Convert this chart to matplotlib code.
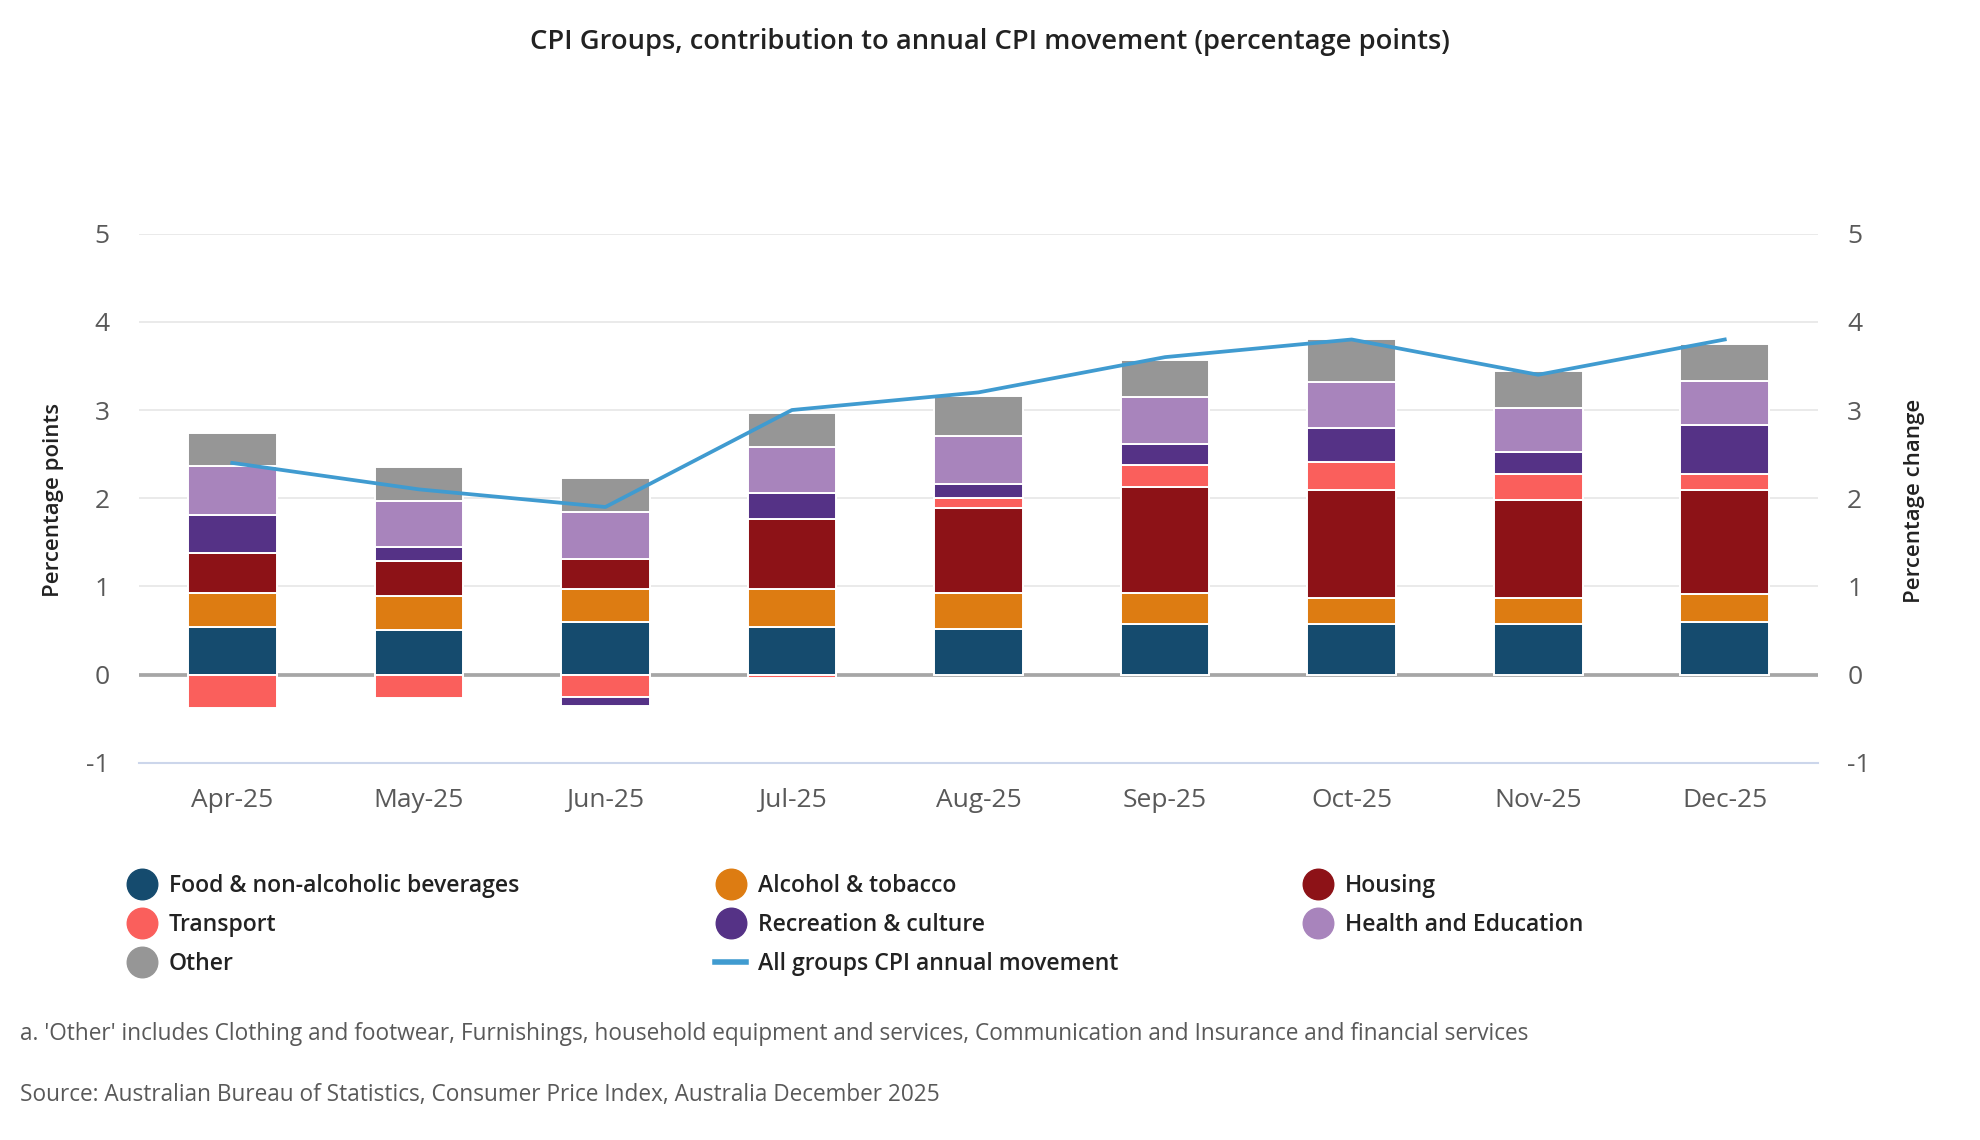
import matplotlib
matplotlib.use('Agg')
import matplotlib.pyplot as plt
from matplotlib.lines import Line2D
import numpy as np

months = ['Apr-25', 'May-25', 'Jun-25', 'Jul-25', 'Aug-25', 'Sep-25', 'Oct-25', 'Nov-25', 'Dec-25']
food = [0.54, 0.50, 0.59, 0.54, 0.52, 0.57, 0.57, 0.57, 0.59]
alcohol = [0.38, 0.39, 0.38, 0.43, 0.41, 0.36, 0.30, 0.30, 0.32]
housing = [0.46, 0.40, 0.34, 0.79, 0.96, 1.20, 1.22, 1.11, 1.18]
transport = [-0.38, -0.27, -0.25, -0.04, 0.11, 0.25, 0.32, 0.29, 0.18]
recreation = [0.43, 0.16, -0.11, 0.30, 0.16, 0.23, 0.39, 0.25, 0.56]
health = [0.55, 0.52, 0.53, 0.52, 0.54, 0.54, 0.52, 0.50, 0.50]
other = [0.38, 0.38, 0.39, 0.39, 0.46, 0.42, 0.48, 0.42, 0.42]
cpi_annual = [2.4, 2.1, 1.9, 3.0, 3.2, 3.6, 3.8, 3.4, 3.8]

group_names = ['Food & non-alcoholic beverages', 'Alcohol & tobacco', 'Housing',
               'Transport', 'Recreation & culture', 'Health and Education', 'Other']
group_values = [food, alcohol, housing, transport, recreation, health, other]
group_colors = ['#154b6e', '#dd7c12', '#8d1217', '#fa5f5c', '#553286', '#a884bc', '#969696']
line_name = 'All groups CPI annual movement'
line_color = '#409bd0'

plt.rcParams['font.family'] = ['Open Sans', 'DejaVu Sans']
plt.rcParams['axes.unicode_minus'] = False

fig = plt.figure(figsize=(19.8, 11.4), dpi=100)
ax = fig.add_axes([0.0702, 0.331, 0.848, 0.464])

x = np.arange(len(months))
pos_bottom = np.zeros(len(months))
neg_bottom = np.zeros(len(months))
for name, vals, col in zip(group_names, group_values, group_colors):
    v = np.array(vals)
    bottom = np.where(v >= 0, pos_bottom, neg_bottom)
    ax.bar(x, v, width=0.475, bottom=bottom, color=col, edgecolor='white',
           linewidth=1.4, zorder=3)
    pos_bottom += np.where(v >= 0, v, 0)
    neg_bottom += np.where(v < 0, v, 0)

ax.axhline(0, color='#a6a6a6', linewidth=2.7, zorder=2)

ax.set_xlim(-0.5, len(months) - 0.5)
ax.set_ylim(-1, 5)
ax.set_yticks(range(-1, 6))
ax.set_xticks(x)
ax.set_xticklabels(months)
ax.grid(axis='y', color='#e6e6e6', linewidth=1.2, zorder=0)
ax.set_axisbelow(True)
for s in ['top', 'left', 'right']:
    ax.spines[s].set_visible(False)
ax.spines['bottom'].set_color('#ccd6eb')
ax.spines['bottom'].set_linewidth(1.5)
ax.tick_params(axis='both', length=0, labelsize=19, labelcolor='#595959')
ax.tick_params(axis='y', pad=21)
ax.tick_params(axis='x', pad=18)

ax2 = ax.twinx()
ax2.plot(x, cpi_annual, color=line_color, linewidth=2.7, zorder=4)
ax2.set_ylim(-1, 5)
ax2.set_yticks(range(-1, 6))
for s in ['top', 'left', 'right', 'bottom']:
    ax2.spines[s].set_visible(False)
ax2.tick_params(axis='y', length=0, labelsize=19, labelcolor='#595959', pad=21)

fig.text(0.0268, 0.561, 'Percentage points', rotation=90, ha='center', va='center',
         fontsize=16, fontweight='semibold', color='#222222')
fig.text(0.967, 0.561, 'Percentage change', rotation=90, ha='center', va='center',
         fontsize=16, fontweight='semibold', color='#222222')

fig.text(0.5, 0.963, 'CPI Groups, contribution to annual CPI movement (percentage points)',
         ha='center', va='center', fontsize=19.7, fontweight='semibold', color='#222222')

# legend, built column by column so the columns line up like the original
handles = [Line2D([], [], linestyle='none', marker='o', markersize=22,
                  markerfacecolor=c, markeredgecolor=c) for c in group_colors]
line_handle = Line2D([], [], color=line_color, linewidth=4)
columns = [([handles[0], handles[3], handles[6]], [group_names[0], group_names[3], group_names[6]]),
           ([handles[1], handles[4], line_handle], [group_names[1], group_names[4], line_name]),
           ([handles[2], handles[5]], [group_names[2], group_names[5]])]
col_x = [126 / 1980, 715 / 1980, 1302 / 1980]
for cx, (hs, ls) in zip(col_x, columns):
    fig.legend(hs, ls, loc='upper left', bbox_to_anchor=(cx, 0.233), frameon=False,
               borderpad=0, borderaxespad=0, handlelength=1.35, handletextpad=0.5,
               labelspacing=0.64, prop={'size': 16.6, 'weight': 'semibold'},
               labelcolor='#222222')

fig.text(20 / 1980, 1 - 1034.5 / 1140,
         "a. 'Other' includes Clothing and footwear, Furnishings, household equipment and services, "
         "Communication and Insurance and financial services",
         ha='left', va='center', fontsize=16.25, color='#595959')
fig.text(20 / 1980, 1 - 1094.5 / 1140,
         'Source: Australian Bureau of Statistics, Consumer Price Index, Australia December 2025',
         ha='left', va='center', fontsize=16.25, color='#595959')

fig.savefig('out.png', dpi=100, facecolor='white')
